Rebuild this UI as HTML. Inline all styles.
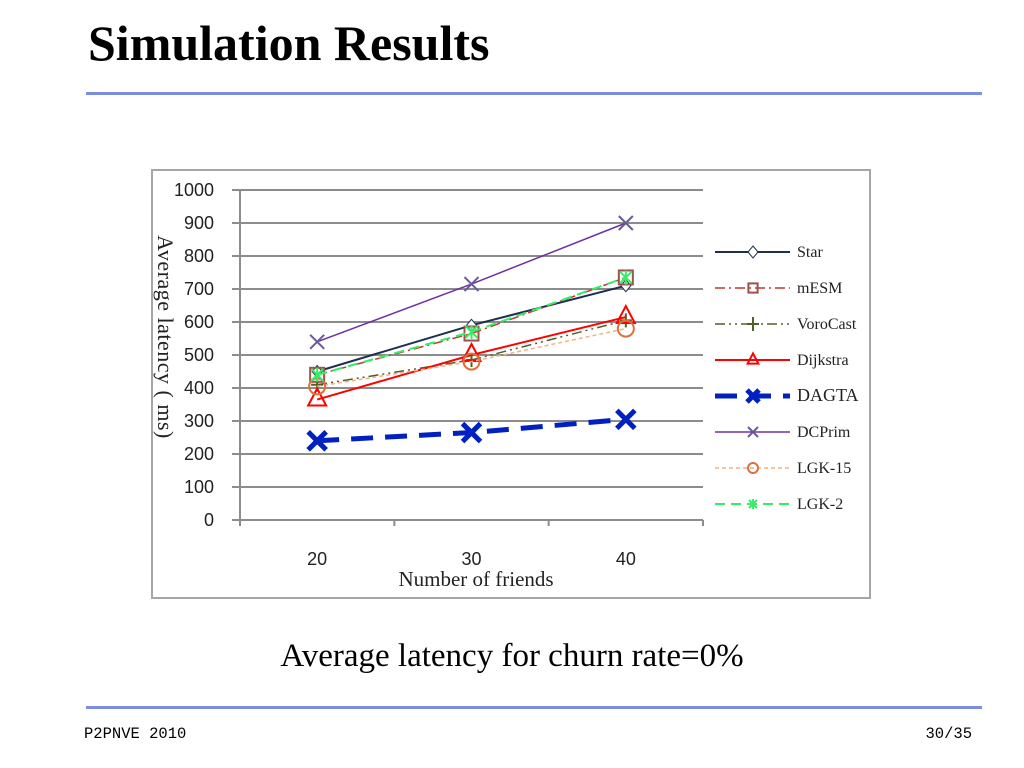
<!DOCTYPE html>
<html><head><meta charset="utf-8"><style>
body{margin:0;width:1024px;height:768px;background:#fff;position:relative;overflow:hidden;font-family:"Liberation Serif",serif}
.t{position:absolute}
</style></head><body>
<div class="t" style="left:88px;top:14px;font-size:50px;font-weight:bold">Simulation Results</div>
<div class="t" style="left:86px;top:92px;width:896px;height:3px;background:#7b8ee0"></div>
<svg class="t" style="left:0;top:0" width="1024" height="768" id="chart"></svg>
<div class="t" style="left:0;width:1024px;top:638px;text-align:center;font-size:33px">Average latency for churn rate=0%</div>
<div class="t" style="left:86px;top:706px;width:896px;height:3px;background:#7b8ee0"></div>
<div class="t" style="left:84px;top:725px;font-family:'Liberation Mono',monospace;font-size:15.5px">P2PNVE 2010</div>
<div class="t" style="left:900px;width:72px;text-align:right;top:725px;font-family:'Liberation Mono',monospace;font-size:15.5px">30/35</div>
<script>
const categories=["20","30","40"];
const yTicks=[0,100,200,300,400,500,600,700,800,900,1000];
const star=[450,590,710];
const mesm=[440,565,735];
const voro=[410,485,605];
const dijkstra=[365,500,615];
const dagta=[240,265,305];
const dcprim=[540,715,900];
const lgk15=[405,480,580];
const lgk2=[440,570,735];
const series=[
 {name:"Star",data:star,color:"#1f2f4f",w:2,dash:"",m:"diamond"},
 {name:"mESM",data:mesm,color:"#c0392b",w:1.5,dash:"10,4,2,4",m:"square",mc:"#a0504a"},
 {name:"VoroCast",data:voro,color:"#4f6228",w:1.5,dash:"10,4,2,4,2,4",m:"plus"},
 {name:"Dijkstra",data:dijkstra,color:"#ff0000",w:2,dash:"",m:"triangle"},
 {name:"DAGTA",data:dagta,color:"#0020c0",w:5,dash:"22,12",m:"bigx"},
 {name:"DCPrim",data:dcprim,color:"#7030a0",w:1.5,dash:"",m:"x",mc:"#6a5a9a"},
 {name:"LGK-15",data:lgk15,color:"#f4b183",w:1.5,dash:"4,3",m:"circle",mc:"#e0703a"},
 {name:"LGK-2",data:lgk2,color:"#33ee66",w:2,dash:"10,6",m:"star"}];
const svg=document.getElementById('chart');const NS="http://www.w3.org/2000/svg";
function el(t,a,p){const e=document.createElementNS(NS,t);for(const k in a)e.setAttribute(k,a[k]);(p||svg).appendChild(e);return e;}
const L=240,R=703,T=190,B=520;
const y=v=>B-(v/1000)*(B-T);
const bw=(R-L)/categories.length;
const x=i=>L+bw*(i+0.5);
const frame=el('rect',{x:152,y:170,width:718,height:428,fill:'#fff',stroke:'#a6a6a6','stroke-width':2});


yTicks.forEach(v=>{
 const g=el('line',{x1:232,x2:R,y1:y(v),y2:y(v),stroke:'#8c8c8c','stroke-width':2});
 
 
 const t=el('text',{x:214,y:y(v)+6,'text-anchor':'end','font-size':18,'font-family':'Liberation Sans, sans-serif',fill:'#222'});t.textContent=v;
 
 
});
const ax=el('line',{x1:L,x2:L,y1:T,y2:B+6,stroke:'#8c8c8c','stroke-width':2});


for(let i=0;i<=categories.length;i++){const tk=el('line',{x1:L+bw*i,x2:L+bw*i,y1:B,y2:B+6,stroke:'#8c8c8c','stroke-width':2});
 
 }
categories.forEach((c,i)=>{const t=el('text',{x:x(i),y:565,'text-anchor':'middle','font-size':18,'font-family':'Liberation Sans, sans-serif',fill:'#222'});t.textContent=c;
 
 });
const xt=el('text',{x:476,y:586,'text-anchor':'middle','font-size':21,fill:'#222'});xt.textContent="Number of friends";


const yt=el('text',{x:0,y:0,'text-anchor':'middle','font-size':22,'letter-spacing':'0.5',fill:'#222',transform:'translate(158,337) rotate(90)'});yt.textContent="Average  latency ( ms)";


function marker(g,m,cx,cy,c,big){
 const s=big?1:0.6;
 if(m==="diamond")el('path',{d:`M${cx},${cy-6}L${cx+5},${cy}L${cx},${cy+6}L${cx-5},${cy}Z`,fill:'#fff',stroke:c,'stroke-width':1},g);
 if(m==="square")el('rect',{x:cx-6*s-1,y:cy-6*s-1,width:12*s+2,height:12*s+2,fill:'none',stroke:c,'stroke-width':2},g);
 if(m==="plus")el('path',{d:`M${cx-6},${cy}H${cx+6}M${cx},${cy-7}V${cy+7}`,stroke:c,'stroke-width':2},g);
 if(m==="triangle")el('path',{d:`M${cx},${cy-11*s}L${cx+9*s},${cy+6*s}L${cx-9*s},${cy+6*s}Z`,fill:'none',stroke:c,'stroke-width':2},g);
 if(m==="bigx"){const r=big?9:6;el('path',{d:`M${cx-r},${cy-r}L${cx+r},${cy+r}M${cx+r},${cy-r}L${cx-r},${cy+r}`,stroke:c,'stroke-width':5},g);}
 if(m==="x"){const r=big?7:5;el('path',{d:`M${cx-r},${cy-r}L${cx+r},${cy+r}M${cx+r},${cy-r}L${cx-r},${cy+r}`,stroke:c,'stroke-width':2},g);}
 if(m==="circle")el('circle',{cx:cx,cy:cy,r:big?8:5,fill:'none',stroke:c,'stroke-width':2},g);
 if(m==="star"){const r=big?6:4;el('path',{d:`M${cx-r},${cy-r}L${cx+r},${cy+r}M${cx+r},${cy-r}L${cx-r},${cy+r}M${cx},${cy-r-1}V${cy+r+1}`,stroke:c,'stroke-width':2},g);}
}
series.forEach((s,si)=>{
 const g=el('g',{});
 
 
 el('polyline',{points:s.data.map((v,i)=>x(i)+','+y(v)).join(' '),fill:'none',stroke:s.color,'stroke-width':s.w,'stroke-dasharray':s.dash},g);
 s.data.forEach((v,i)=>marker(g,s.m,x(i),y(v),s.mc||s.color,true));
 const ly=252+si*36;
 const lg=el('g',{});
 
 
 el('line',{x1:715,x2:790,y1:ly,y2:ly,stroke:s.color,'stroke-width':s.w,'stroke-dasharray':s.dash},lg);
 marker(lg,s.m,753,ly,s.mc||s.color,false);
 const t=el('text',{x:797,y:ly+5,'font-size':s.name==="DAGTA"?18:16,fill:'#222'},lg);t.textContent=s.name;
});
</script>
</body></html>
